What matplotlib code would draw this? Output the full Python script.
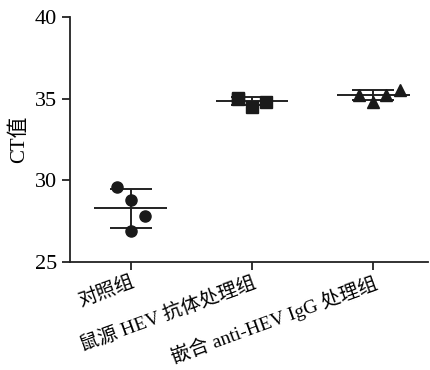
import numpy as np
import matplotlib
matplotlib.use('Agg')
import matplotlib.pyplot as plt

# fonts: Times-like for latin, CJK fallback
plt.rcParams['font.family'] = ['Liberation Serif', 'Noto Sans CJK SC']

# data
groups = ['对照组', '鼠源 HEV 抗体处理组', '嵌合 anti-HEV IgG 处理组']
ctrl_vals = [29.6, 28.8, 27.8, 26.9]
mouse_vals = [35.0, 35.05, 34.5, 34.8]
chim_vals = [35.25, 34.8, 35.2, 35.55]
offsets_a = [-0.115, 0.0, 0.115, 0.0]
offsets_b = [-0.115, -0.115, 0.0, 0.115]
offsets_c = [-0.115, 0.0, 0.105, 0.22]
markers = ['o', 's', '^']
msizes = [8, 8, 8]

all_vals = [ctrl_vals, mouse_vals, chim_vals]
all_offs = [offsets_a, offsets_b, offsets_c]

fig = plt.figure(figsize=(4.3, 3.7), dpi=100)
ax = fig.add_axes([0.163, 0.292, 0.832, 0.662])

for i, (vals, offs) in enumerate(zip(all_vals, all_offs)):
    v = np.array(vals)
    m = v.mean()
    sd = v.std(ddof=1)
    # mean line and sd whiskers
    ax.hlines(m, i - 0.3, i + 0.3, color='#222222', lw=1.4, zorder=2)
    ax.hlines([m - sd, m + sd], i - 0.175, i + 0.175, color='#222222', lw=1.4, zorder=2)
    ax.vlines(i, m - sd, m + sd, color='#222222', lw=1.4, zorder=2)
    ax.plot(np.array(offs) + i, v, linestyle='none', marker=markers[i],
            ms=msizes[i], color='#1a1a1a', zorder=3)

ax.set_xlim(-0.5, 2.45)
ax.set_ylim(25, 40)
ax.set_yticks([25, 30, 35, 40])
ax.set_xticks(range(3))
ax.set_xticklabels(groups, rotation=20, ha='right', rotation_mode='anchor')
ax.tick_params(axis='both', direction='out', length=6, width=1.3, labelsize=16, color='#222222')
ax.tick_params(axis='x', labelsize=14, pad=2)
ax.set_ylabel('CT值', fontsize=15, labelpad=4)

for s in ['top', 'right']:
    ax.spines[s].set_visible(False)
for s in ['left', 'bottom']:
    ax.spines[s].set_linewidth(1.3)
    ax.spines[s].set_color('#222222')

fig.savefig('out.png', dpi=100)
